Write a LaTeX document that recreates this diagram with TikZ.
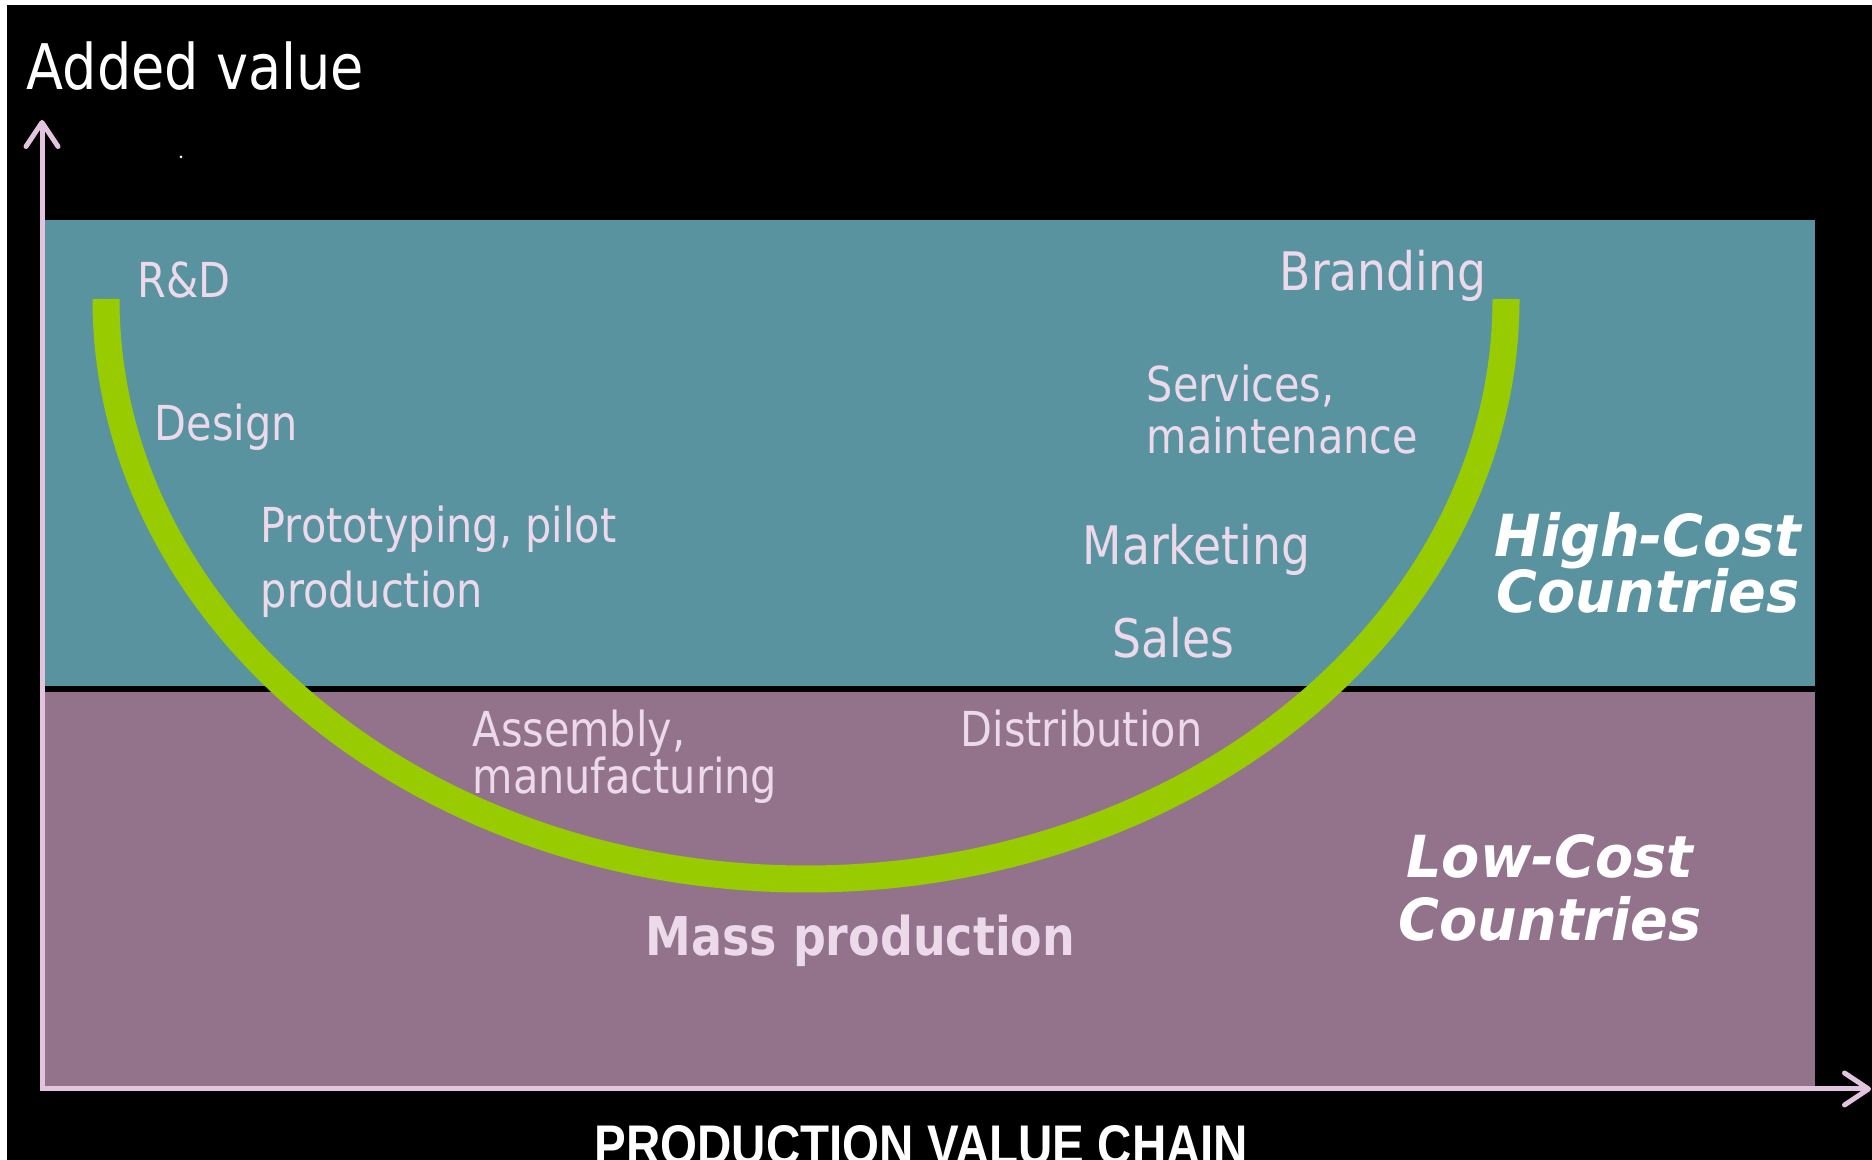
\documentclass[tikz,border=0pt]{standalone}
\usepackage{fontspec}
\usetikzlibrary{arrows.meta,positioning}
\newfontfamily\lblfont{DejaVu Sans}[FakeStretch=0.86]
\newfontfamily\costfont{DejaVu Sans}[FakeStretch=0.96]
\newfontfamily\chainfont{Liberation Sans}[FakeStretch=0.85]
\definecolor{highcost}{RGB}{90,147,160}
\definecolor{lowcost}{RGB}{147,115,140}
\definecolor{smile}{RGB}{153,204,0}
\definecolor{axispink}{RGB}{226,196,222}
\definecolor{lblpink}{RGB}{236,218,234}

\begin{document}
\begin{tikzpicture}[x=0.1mm, y=0.1mm,
	lbl/.style={font=\lblfont\fontsize{13.7}{16}\selectfont, text=lblpink, inner sep=0pt, anchor=base west},
	lblbig/.style={lbl, font=\lblfont\fontsize{15.1}{18}\selectfont},
	costlbl/.style={font=\costfont\bfseries\itshape\fontsize{16.5}{19}\selectfont, text=white, inner sep=0pt, anchor=base},
	axisline/.style={draw=axispink, line width=0.5mm, {Straight Barb[round,length=2.4mm,width=3.2mm]}-{Straight Barb[round,length=2.4mm,width=3.2mm]}},
	]
	\useasboundingbox (0,0) rectangle (1872,1160);
	\clip (0,0) rectangle (1872,1160);
	\fill[white] (0,0) rectangle (1872,1160);
	\fill[black] (7,0) rectangle (1872,1155);
	\fill[white] (181,1003) circle (1.5);

	% cost bands
	\fill[highcost] (45,474) rectangle (1815,940);
	\fill[lowcost] (45,71) rectangle (1815,468);

	% smile curve
	\draw[smile, line width=2.7mm] (106,861) arc[start angle=180, end angle=360, x radius=700, y radius=580];

	% axes
	\coordinate (origin) at (42,71);
	\coordinate (ytip) at (42,1040);
	\coordinate (xtip) at (1871,71);
	\draw[axisline] (ytip) -- (origin) -- (xtip);

	\node[lbl, text=white, font=\lblfont\fontsize{17.9}{21}\selectfont] (title) at (26,1070) {Added value};
	\node[font=\chainfont\bfseries\fontsize{15.9}{19}\selectfont, text=white, inner sep=0pt, anchor=base west] (chain) at (594,-5) {PRODUCTION VALUE CHAIN};

	% stages along the curve
	\node[lbl] (rd) at (137,862) {R\&D};
	\node[lbl] (design) at (154,719) {Design};
	\node[lbl] (proto) at (260,617) {Prototyping, pilot};
	\node[lbl] (proto2) at ([yshift=-6.5mm]proto.base west) {production};
	\node[lbl] (assem) at (472,413) {Assembly,};
	\node[lbl] (assem2) at ([yshift=-4.7mm]assem.base west) {manufacturing};
	\node[lbl] (distr) at (960,413) {Distribution};
	\node[lblbig] (sales) at (1112,502) {Sales};
	\node[lblbig] (market) at (1082,595) {Marketing};
	\node[lbl] (serv) at (1146,758) {Services,};
	\node[lbl] (serv2) at ([yshift=-5.2mm]serv.base west) {maintenance};
	\node[lblbig] (brand) at (1279,869) {Branding};
	\node[lbl, font=\lblfont\bfseries\fontsize{15.2}{18}\selectfont] (mass) at (645,204) {Mass production};

	% country groups
	\node[costlbl] (high) at (1648,603) {High-Cost};
	\node[costlbl] (high2) at ([yshift=-5.6mm]high.base) {Countries};
	\node[costlbl] (low) at (1550,282) {Low-Cost};
	\node[costlbl] (low2) at ([yshift=-6.3mm]low.base) {Countries};
\end{tikzpicture}
\end{document}
